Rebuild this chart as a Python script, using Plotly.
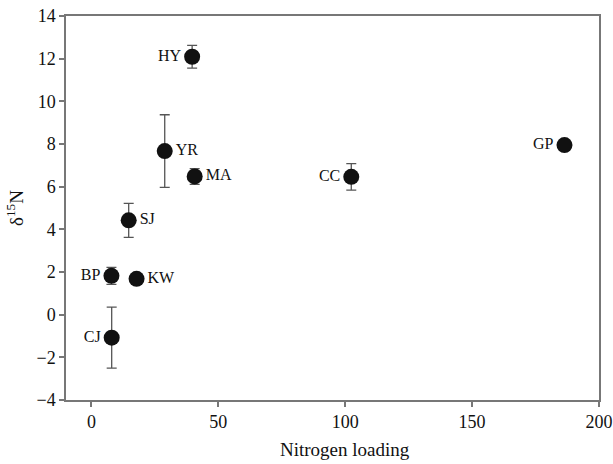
import plotly.graph_objects as go

sites = ["HY", "YR", "MA", "SJ", "BP", "KW", "CJ", "CC", "GP"]
nitrogen = [39.7, 28.9, 40.7, 14.7, 7.9, 17.8, 8.0, 102.4, 186.4]
d15n = [12.09, 7.67, 6.48, 4.42, 1.82, 1.68, -1.08, 6.46, 7.95]
err = [0.53, 1.7, 0.37, 0.8, 0.4, 0.0, 1.43, 0.62, 0.0]
label_pos = ["middle left", "middle right", "middle right", "middle right",
             "middle left", "middle right", "middle left", "middle left", "middle left"]

font = "Liberation Serif, Times New Roman, serif"

fig = go.Figure()
fig.add_trace(go.Scatter(
    x=nitrogen, y=d15n, mode="markers+text",
    text=sites, textposition=label_pos,
    textfont=dict(family=font, size=16, color="#111"),
    marker=dict(size=16, color="#111"),
    error_y=dict(type="data", array=err, visible=True, color="#555", thickness=1.3, width=5),
    showlegend=False,
))

axis_common = dict(showgrid=False, zeroline=False, showline=True, linecolor="#777",
                   linewidth=1.5, mirror=True, ticks="outside", ticklen=5,
                   tickcolor="#777", tickwidth=1.5, automargin=False,
                   ticklabeloverflow="allow",
                   tickfont=dict(family=font, size=18, color="#111"))

fig.update_layout(
    width=613, height=464,
    margin=dict(l=66, r=14, t=16, b=64),
    paper_bgcolor="white", plot_bgcolor="white",
    xaxis=dict(range=[-10, 200], tickvals=[0, 50, 100, 150, 200], **axis_common),
    yaxis=dict(range=[-4, 14], tickvals=list(range(-4, 15, 2)),
               ticktext=["\u22124", "\u22122", "0", "2", "4", "6", "8", "10", "12", "14"],
               title=dict(text="\u03b4<sup>15</sup>N", font=dict(family=font, size=19, color="#111"), standoff=8),
               **axis_common),
    annotations=[dict(text="Nitrogen loading", xref="paper", yref="paper",
                      x=0.523, y=-0.13, xanchor="center", yanchor="middle",
                      showarrow=False, font=dict(family=font, size=19, color="#111"))],
)

fig.write_html("out.html")
